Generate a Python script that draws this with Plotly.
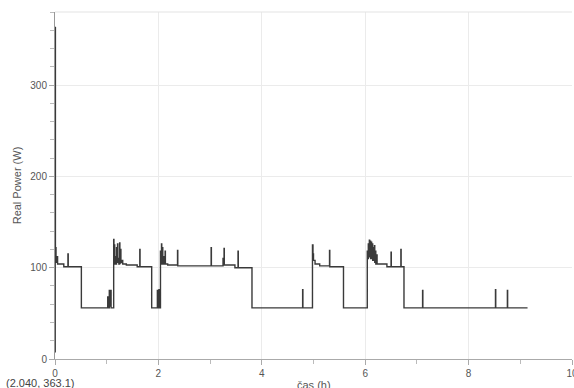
import plotly.graph_objects as go

# Logged real power (W) over time (h); each value holds until the next sample
hours = [
    0.000, 0.004, 0.008, 0.020, 0.045, 0.050, 0.170, 0.250, 0.256, 0.510,
    1.020, 1.025, 1.050, 1.055, 1.080, 1.085,
    1.135, 1.140, 1.150, 1.155, 1.170, 1.175, 1.190, 1.195, 1.210, 1.215,
    1.225, 1.235, 1.250, 1.255, 1.270, 1.275, 1.290, 1.310, 1.380, 1.590,
    1.640, 1.645, 1.870,
    1.980, 1.985, 2.010, 2.015,
    2.040, 2.050, 2.060, 2.065, 2.080, 2.085, 2.100, 2.105, 2.130, 2.135,
    2.180, 2.370, 2.375, 3.020, 3.025, 3.250, 3.255, 3.270, 3.275, 3.480,
    3.540, 3.545, 3.810,
    4.790, 4.795,
    4.980, 4.990, 5.000, 5.030, 5.120, 5.310, 5.315, 5.580,
    6.040, 6.050, 6.060, 6.065, 6.080, 6.085, 6.100, 6.105, 6.120, 6.125,
    6.140, 6.145, 6.160, 6.165, 6.180, 6.185, 6.200, 6.205, 6.220, 6.230,
    6.420, 6.500, 6.505, 6.690, 6.695, 6.750,
    7.110, 7.115, 8.520, 8.525, 8.750, 8.755, 9.140,
]
power_w = [
    8, 363.1, 122, 106, 112, 104, 101, 115, 101, 56,
    68, 56, 75, 58, 75, 56,
    131, 104, 125, 106, 112, 104, 122, 106, 126, 108,
    110, 104, 127, 105, 120, 106, 108, 104, 103, 101,
    120, 101, 56,
    75, 56, 76, 56,
    118, 104, 126, 106, 122, 104, 112, 104, 118, 104,
    103, 119, 102, 122, 102, 110, 103, 121, 103, 100,
    118, 100, 56,
    76, 56,
    125, 115, 108, 104, 102, 119, 101, 56,
    118, 110, 126, 112, 130, 114, 129, 110, 128, 112,
    126, 108, 122, 108, 124, 106, 118, 104, 114, 104,
    101, 117, 101, 120, 101, 56,
    75, 56, 76, 56, 75, 56, 56,
]

x_ticks = [0, 2, 4, 6, 8, 10]
y_ticks = [0, 100, 200, 300]
cursor_label = "(2.040, 363.1)"

FONT = "Liberation Sans, Arial, sans-serif"

fig = go.Figure(
    go.Scatter(
        x=hours,
        y=power_w,
        mode="lines",
        line=dict(color="#3a3a3a", width=1.4, shape="hv"),
        showlegend=False,
        hoverinfo="skip",
    )
)

fig.update_layout(
    width=574,
    height=388,
    margin=dict(l=55, r=2, t=12, b=29),
    paper_bgcolor="white",
    plot_bgcolor="white",
    font=dict(family=FONT, size=10, color="#555555"),
    xaxis=dict(
        range=[0, 10],
        automargin=False,
        tickmode="array",
        tickvals=x_ticks,
        ticktext=[str(v) for v in x_ticks],
        ticks="outside",
        ticklen=5,
        tickcolor="#aaaaaa",
        ticklabeloverflow="allow",
        minor=dict(dtick=1, tick0=0, ticks="outside", ticklen=4, tickcolor="#bbbbbb", showgrid=False),
        showline=True,
        linecolor="#aaaaaa",
        linewidth=1,
        showgrid=True,
        gridcolor="#ebebeb",
        gridwidth=1,
        zeroline=False,
        tickfont=dict(size=10, color="#555555"),
    ),
    yaxis=dict(
        range=[0, 380],
        automargin=False,
        tickmode="array",
        tickvals=y_ticks,
        ticktext=[str(v) for v in y_ticks],
        ticks="outside",
        ticklen=5,
        tickcolor="#aaaaaa",
        minor=dict(dtick=20, tick0=0, ticks="outside", ticklen=4, tickcolor="#bbbbbb", showgrid=False),
        showline=True,
        linecolor="#999999",
        linewidth=1,
        showgrid=True,
        gridcolor="#ebebeb",
        gridwidth=1,
        zeroline=False,
        tickfont=dict(size=10, color="#555555"),
        title=dict(text="Real Power (W)", font=dict(size=11, color="#555555"), standoff=6),
    ),
    shapes=[
        dict(type="line", xref="paper", yref="paper", x0=0, x1=1, y0=1, y1=1,
             line=dict(color="#e3e3e3", width=1)),
    ],
    annotations=[
        dict(text="čas (h)", xref="paper", yref="paper", x=0.5, y=-0.053,
             xanchor="center", yanchor="top", showarrow=False,
             font=dict(size=11, color="#555555")),
        dict(text=cursor_label, xref="paper", yref="paper", x=-0.028, y=-0.068,
             xanchor="center", yanchor="middle", showarrow=False,
             font=dict(size=11, color="#444444")),
    ],
)

fig.write_html("out.html")
